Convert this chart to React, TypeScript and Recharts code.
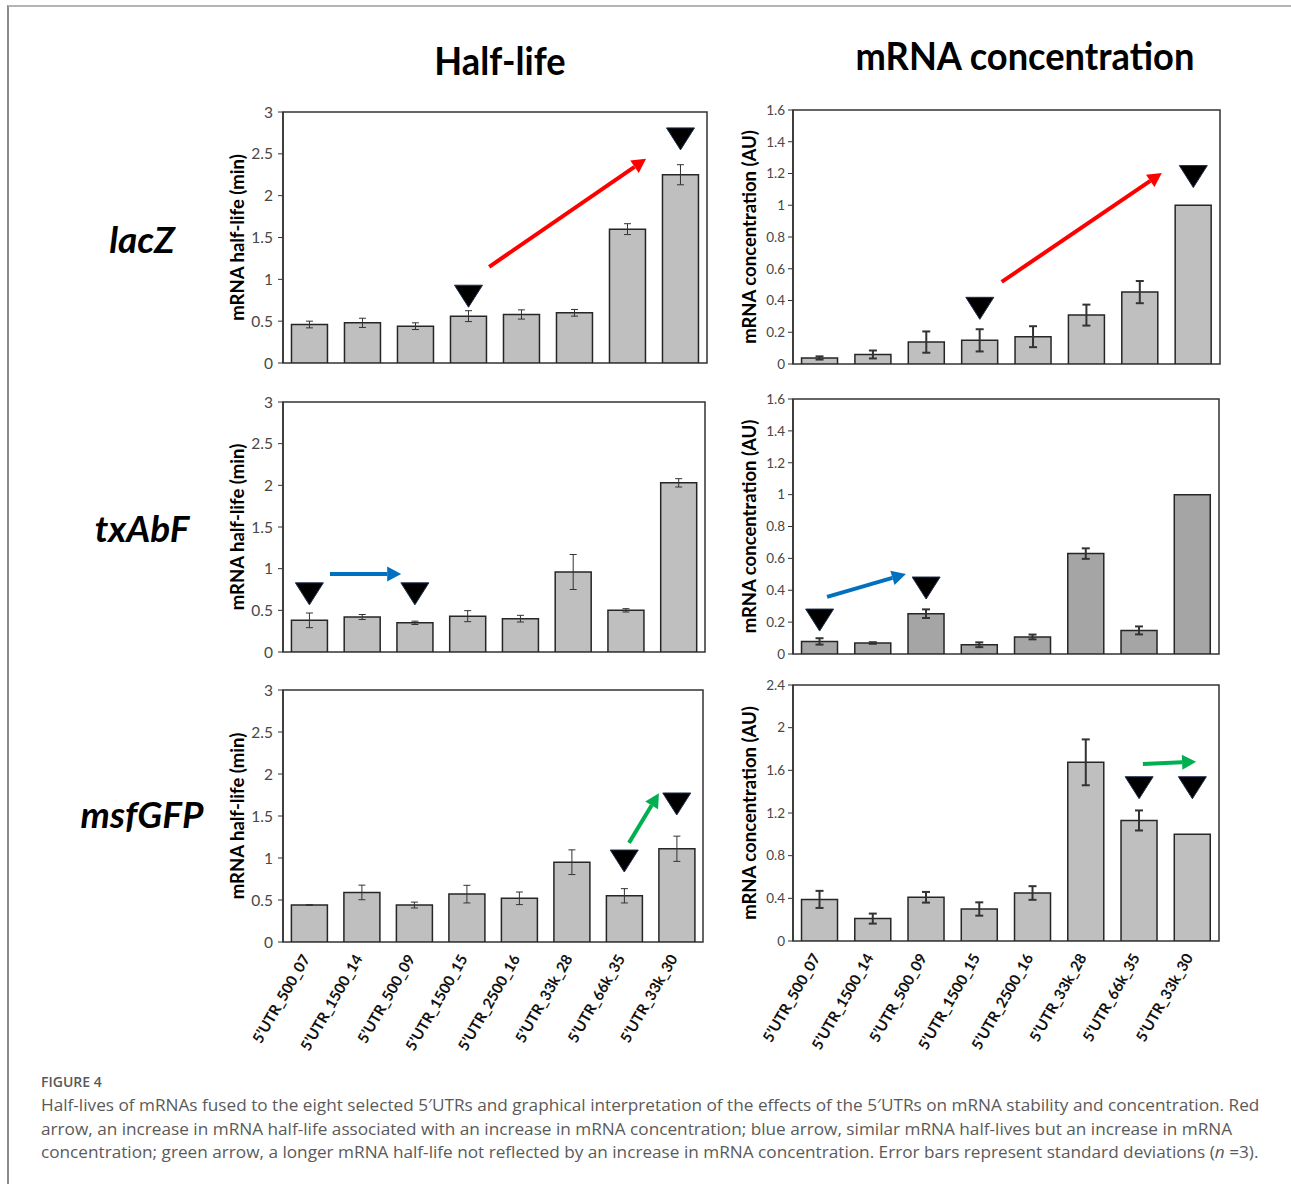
import { BarChart, Bar, XAxis, YAxis, ErrorBar, ReferenceDot, ReferenceLine, ReferenceArea } from 'recharts'

const categories = [
  '5’UTR_500_07', '5’UTR_1500_14', '5’UTR_500_09', '5’UTR_1500_15',
  '5’UTR_2500_16', '5’UTR_33k_28', '5’UTR_66k_35', '5’UTR_33k_30',
]

// half-life (min) and mRNA concentration (AU), with standard deviations
const lacZHalf = [0.46, 0.48, 0.44, 0.56, 0.58, 0.6, 1.6, 2.25]
const lacZHalfSd = [0.04, 0.055, 0.04, 0.065, 0.055, 0.04, 0.065, 0.12]
const lacZConc = [0.038, 0.06, 0.138, 0.149, 0.172, 0.308, 0.453, 1.0]
const lacZConcSd = [0.01, 0.025, 0.067, 0.07, 0.066, 0.066, 0.07, 0]
const txHalf = [0.38, 0.42, 0.35, 0.43, 0.4, 0.96, 0.5, 2.03]
const txHalfSd = [0.088, 0.03, 0.02, 0.066, 0.04, 0.21, 0.02, 0.05]
const txConc = [0.079, 0.069, 0.253, 0.058, 0.107, 0.63, 0.148, 1.0]
const txConcSd = [0.02, 0.005, 0.027, 0.015, 0.015, 0.033, 0.025, 0]
const gfpHalf = [0.44, 0.59, 0.44, 0.57, 0.52, 0.95, 0.55, 1.11]
const gfpHalfSd = [0.005, 0.087, 0.035, 0.105, 0.075, 0.147, 0.085, 0.15]
const gfpConc = [0.39, 0.21, 0.41, 0.3, 0.45, 1.675, 1.13, 1.0]
const gfpConcSd = [0.08, 0.047, 0.05, 0.0625, 0.064, 0.215, 0.094, 0]

const halfTicks = [0, 0.5, 1, 1.5, 2, 2.5, 3]
const concTicks = [0, 0.2, 0.4, 0.6, 0.8, 1, 1.2, 1.4, 1.6]
const gfpConcTicks = [0, 0.4, 0.8, 1.2, 1.6, 2, 2.4]

// annotation positions: x in category units (bar i centre = i + 0.5), y in axis units
const lacZHalfMarks = [{ x: 3.5, y: 0.93 }, { x: 7.5, y: 2.81 }]
const lacZConcMarks = [{ x: 3.5, y: 0.42 }, { x: 7.5, y: 1.25 }]
const txHalfMarks = [{ x: 0.5, y: 0.83 }, { x: 2.5, y: 0.83 }]
const txConcMarks = [{ x: 0.5, y: 0.282 }, { x: 2.5, y: 0.483 }]
const gfpHalfMarks = [{ x: 6.5, y: 1.095 }, { x: 7.5, y: 1.774 }]
const gfpConcMarks = [{ x: 6.5, y: 1.54 }, { x: 7.5, y: 1.54 }]

const lacZHalfArrow = [{ x: 3.89, y: 1.15 }, { x: 6.85, y: 2.44 }]
const lacZConcArrow = [{ x: 3.91, y: 0.517 }, { x: 6.91, y: 1.203 }]
const txHalfArrow = [{ x: 0.89, y: 0.936 }, { x: 2.24, y: 0.936 }]
const txConcArrow = [{ x: 0.64, y: 0.358 }, { x: 2.12, y: 0.502 }]
const gfpHalfArrow = [{ x: 6.59, y: 1.18 }, { x: 7.16, y: 1.77 }]
const gfpConcArrow = [{ x: 6.57, y: 1.66 }, { x: 7.57, y: 1.68 }]

const FONT = 'Lato, "Open Sans", sans-serif'

const Triangle = (props: any) => {
  const { cx, cy } = props
  return (
    <polygon
      points={`${cx - 14},${cy} ${cx + 14},${cy} ${cx},${cy + 22}`}
      fill="#000"
      stroke="#1f2f4f"
      strokeWidth={1}
    />
  )
}

const makeArrow = (color: string) => (props: any) => {
  const { x1, y1, x2, y2 } = props
  const a = Math.atan2(y2 - y1, x2 - x1)
  const len = 14
  const hw = 7.5
  const bx = x2 - len * Math.cos(a)
  const by = y2 - len * Math.sin(a)
  const px = -Math.sin(a) * hw
  const py = Math.cos(a) * hw
  return (
    <g>
      <line x1={x1} y1={y1} x2={bx} y2={by} stroke={color} strokeWidth={4} />
      <polygon points={`${x2},${y2} ${bx + px},${by + py} ${bx - px},${by - py}`} fill={color} />
    </g>
  )
}

const XTick = (props: any) => {
  const { x, y, payload } = props
  return (
    <g transform={`translate(${x - 3},${y + 6})`}>
      <text x={0} y={0} dy={5} textAnchor="end" transform="rotate(-60)"
        fontFamily={FONT} fontWeight={700} fontSize={15} fill="#111">
        {payload.value}
      </text>
    </g>
  )
}

type PanelProps = {
  chartLeft: number
  left: number
  top: number
  right: number
  bottom: number
  values: number[]
  sd: number[]
  max: number
  ticks: number[]
  yLabel: string
  labelOffset: number
  tickFont: number
  tickGap: number
  fill: string
  errWidth: number
  errStroke: number
  showX: boolean
  marks: { x: number; y: number }[]
  arrow: { x: number; y: number }[]
  arrowColor: string
}

function Panel(p: PanelProps) {
  const data = categories.map((name, i) => ({ name, pos: i + 0.5, v: p.values[i], e: p.sd[i] }))
  const xh = p.showX ? 112 : 0
  const mb = p.showX ? 0 : 12
  const width = p.right - p.chartLeft + 10
  const height = p.bottom - p.top + 10 + xh + mb
  return (
    <div style={{ position: 'absolute', left: p.chartLeft, top: p.top - 10 }}>
      <BarChart width={width} height={height} data={data}
        margin={{ top: 10, right: 10, bottom: mb, left: 0 }} barCategoryGap="16%">
        <XAxis dataKey="name" hide={!p.showX} height={xh} interval={0}
          axisLine={false} tickLine={false} tick={<XTick />} />
        <XAxis xAxisId="n" dataKey="pos" type="number" domain={[0, 8]} hide allowDataOverflow />
        <YAxis type="number" domain={[0, p.max]} ticks={p.ticks} interval={0}
          width={p.left - p.chartLeft} allowDataOverflow
          tick={{ fontSize: p.tickFont, fill: '#474747', fontFamily: FONT }}
          tickLine={{ stroke: '#333' }} tickSize={5} tickMargin={p.tickGap}
          axisLine={{ stroke: '#333', strokeWidth: 1.5 }}
          label={{
            value: p.yLabel, angle: -90, position: 'insideLeft', offset: p.labelOffset,
            style: { textAnchor: 'middle', fontSize: 18.5, fontWeight: 700, fill: '#000', fontFamily: FONT },
          }} />
        <ReferenceArea xAxisId="n" x1={0} x2={8} y1={0} y2={p.max} fill="none"
          stroke="#333" strokeWidth={1.5} ifOverflow="visible" />
        <Bar dataKey="v" fill={p.fill} stroke="#262626" strokeWidth={1.5} isAnimationActive={false}>
          <ErrorBar dataKey="e" width={p.errWidth} stroke="#333" strokeWidth={p.errStroke} />
        </Bar>
        {p.marks.map((m, i) => (
          <ReferenceDot key={i} xAxisId="n" x={m.x} y={m.y} shape={Triangle} ifOverflow="visible" />
        ))}
        <ReferenceLine xAxisId="n" segment={p.arrow} shape={makeArrow(p.arrowColor)} ifOverflow="visible" />
      </BarChart>
    </div>
  )
}

const RED = '#ff0000'
const BLUE = '#0070c0'
const GREEN = '#00b050'

const rowLabel = (text: string, top: number) => (
  <div style={{
    position: 'absolute', left: 142, top, transform: 'translateX(-50%)',
    fontFamily: FONT, fontWeight: 700, fontStyle: 'italic', fontSize: 37, whiteSpace: 'nowrap', color: '#000',
  }}>{text}</div>
)

export default function App() {
  const left = { chartLeft: 200, left: 283, labelOffset: 37, tickFont: 15.5, tickGap: 5, errWidth: 3.5, errStroke: 1 }
  const right = { chartLeft: 720, left: 793, labelOffset: 29, tickFont: 13.5, tickGap: 3, errWidth: 4, errStroke: 2 }
  return (
    <div style={{ position: 'absolute', left: 0, top: 0, width: 1291, height: 1184, background: '#fff', overflow: 'hidden' }}>
      <div style={{
        position: 'absolute', left: 7, top: 5, width: 1290, height: 1190,
        borderTop: '2px solid #b4b4b4', borderLeft: '2px solid #8c8c8c',
      }} />
      <div style={{
        position: 'absolute', left: 500, top: 37, transform: 'translateX(-50%) scaleX(0.93)',
        fontFamily: FONT, fontWeight: 700, fontSize: 39, whiteSpace: 'nowrap', color: '#000',
      }}>Half-life</div>
      <div style={{
        position: 'absolute', left: 1025, top: 32, transform: 'translateX(-50%) scaleX(0.93)',
        fontFamily: FONT, fontWeight: 700, fontSize: 39, whiteSpace: 'nowrap', color: '#000',
      }}>mRNA concentration</div>

      {rowLabel('lacZ', 216)}
      {rowLabel('txAbF', 505)}
      {rowLabel('msfGFP', 791)}

      <Panel {...left} top={112} right={707} bottom={363} values={lacZHalf} sd={lacZHalfSd}
        max={3} ticks={halfTicks} yLabel="mRNA half-life (min)" fill="#bfbfbf" showX={false}
        marks={lacZHalfMarks} arrow={lacZHalfArrow} arrowColor={RED} />
      <Panel {...right} top={110} right={1220} bottom={364} values={lacZConc} sd={lacZConcSd}
        max={1.6} ticks={concTicks} yLabel="mRNA concentration (AU)" fill="#bfbfbf" showX={false}
        marks={lacZConcMarks} arrow={lacZConcArrow} arrowColor={RED} />
      <Panel {...left} top={402} right={705} bottom={652} values={txHalf} sd={txHalfSd}
        max={3} ticks={halfTicks} yLabel="mRNA half-life (min)" fill="#bfbfbf" showX={false}
        marks={txHalfMarks} arrow={txHalfArrow} arrowColor={BLUE} />
      <Panel {...right} top={399} right={1219} bottom={654} values={txConc} sd={txConcSd}
        max={1.6} ticks={concTicks} yLabel="mRNA concentration (AU)" fill="#a5a5a5" showX={false}
        marks={txConcMarks} arrow={txConcArrow} arrowColor={BLUE} />
      <Panel {...left} top={690} right={703} bottom={942} values={gfpHalf} sd={gfpHalfSd}
        max={3} ticks={halfTicks} yLabel="mRNA half-life (min)" fill="#bfbfbf" showX
        marks={gfpHalfMarks} arrow={gfpHalfArrow} arrowColor={GREEN} />
      <Panel {...right} top={685} right={1219} bottom={941} values={gfpConc} sd={gfpConcSd}
        max={2.4} ticks={gfpConcTicks} yLabel="mRNA concentration (AU)" fill="#bfbfbf" showX
        marks={gfpConcMarks} arrow={gfpConcArrow} arrowColor={GREEN} />

      <div style={{
        position: 'absolute', left: 41, top: 1072, fontFamily: '"Open Sans", sans-serif',
        fontWeight: 600, fontSize: 14, color: '#595959', whiteSpace: 'nowrap',
      }}>FIGURE 4</div>
      <div style={{
        position: 'absolute', left: 41, top: 1093, fontFamily: '"Open Sans", sans-serif',
        fontSize: 17.2, lineHeight: '23.5px', color: '#5a5a5a', whiteSpace: 'nowrap',
      }}>
        <div>Half-lives of mRNAs fused to the eight selected 5′UTRs and graphical interpretation of the effects of the 5′UTRs on mRNA stability and concentration. Red</div>
        <div>arrow, an increase in mRNA half-life associated with an increase in mRNA concentration; blue arrow, similar mRNA half-lives but an increase in mRNA</div>
        <div>concentration; green arrow, a longer mRNA half-life not reflected by an increase in mRNA concentration. Error bars represent standard deviations (<i>n</i> =3).</div>
      </div>
    </div>
  )
}
